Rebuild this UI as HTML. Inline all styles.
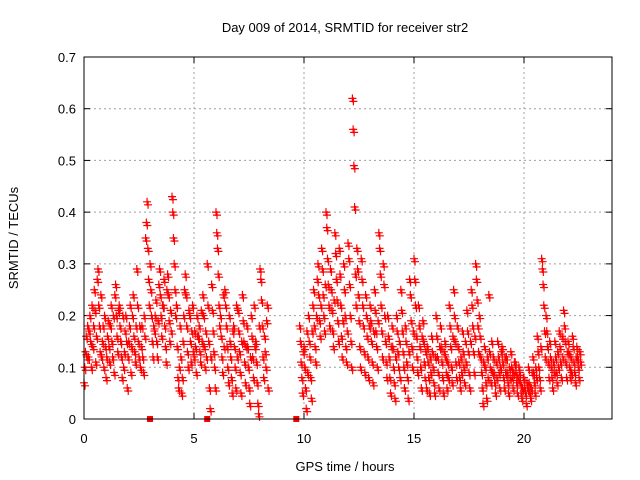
<!DOCTYPE html>
<html><head><meta charset="utf-8"><style>
body{margin:0;background:#fff}
svg{display:block;font-family:"Liberation Sans",sans-serif}
</style></head><body>
<svg id="chart" width="640" height="480">
<text x="345" y="32" font-size="13" text-anchor="middle">Day 009 of 2014, SRMTID for receiver str2</text>
<text x="18" y="238" font-size="13" text-anchor="middle" transform="rotate(-90 18 238)">SRMTID / TECUs</text>
<text x="345" y="471" font-size="13" text-anchor="middle">GPS time / hours</text>
<g id="grid"></g>
<g id="ticks"></g>
<g id="marks"></g>
<rect x="84" y="57" width="528" height="362" fill="none" stroke="#000" stroke-width="1"/>
</svg>
<script>
const xTicks=[0,5,10,15,20];
const yTicks=[0,0.1,0.2,0.3,0.4,0.5,0.6,0.7];
const yTickLabels=["0","0.1","0.2","0.3","0.4","0.5","0.6","0.7"];
const binStarts=[0,0.2,0.4,0.6,0.8,1.0,1.2,1.4,1.6,1.8,2.0,2.2,2.4,2.6,2.8,3.0,3.2,3.4,3.6,3.8,4.0,4.2,4.4,4.6,4.8,5.0,5.2,5.4,5.6,5.8,6.0,6.2,6.4,6.6,6.8,7.0,7.2,7.4,7.6,7.8,8.0,8.2,
9.8,10.0,10.2,10.4,10.6,10.8,11.0,11.2,11.4,11.6,11.8,12.0,12.2,12.4,12.6,12.8,13.0,13.2,13.4,13.6,13.8,14.0,14.2,14.4,14.6,14.8,15.0,15.2,15.4,15.6,15.8,16.0,16.2,16.4,16.6,16.8,17.0,17.2,17.4,17.6,17.8,18.0,18.2,18.4,18.6,18.8,19.0,19.2,19.4,19.6,19.8,20.0,20.2,20.4,20.6,20.8,21.0,21.2,21.4,21.6,21.8,22.0,22.2,22.4];
const binValues=[
[.07,.10,.13,.16,.12,.18],[.12,.17,.20,.15,.10,.22],[.14,.18,.25,.21,.11,.16],[.27,.29,.22,.18,.13,.24],[.12,.15,.18,.10,.20,.14],[.08,.12,.16,.19,.14,.11],[.18,.22,.15,.12,.20,.09],[.24,.26,.20,.16,.13,.21],[.22,.18,.15,.12,.08,.20],[.10,.13,.17,.20,.15,.06],
[.12,.15,.18,.22,.09,.14],[.20,.24,.16,.13,.11,.18],[.29,.22,.15,.12,.18,.10],[.14,.18,.12,.09,.20,.16],[.35,.38,.42,.33,.27,.22],[.30,.25,.20,.15,.12,.18],[.17,.20,.23,.15,.12,.19],[.26,.29,.24,.20,.16,.22],[.22,.27,.18,.14,.11,.25],[.28,.24,.19,.15,.21,.17],
[.43,.40,.35,.30,.25,.20],[.22,.14,.08,.06,.10,.18],[.12,.05,.08,.15,.20,.25],[.28,.24,.18,.13,.10,.21],[.20,.15,.11,.17,.22,.13],[.12,.17,.14,.09,.20,.16],[.16,.18,.13,.11,.21,.15],[.24,.20,.14,.10,.17,.12],[.30,.22,.15,.06,.02,.12],[.26,.21,.17,.13,.10,.06],
[.40,.36,.33,.28,.22,.18],[.20,.16,.12,.09,.24,.14],[.25,.22,.18,.14,.10,.07],[.20,.15,.12,.08,.05,.17],[.18,.14,.10,.06,.22,.12],[.21,.17,.13,.09,.05,.15],[.24,.19,.15,.11,.07,.14],[.18,.14,.10,.06,.03,.12],[.20,.16,.12,.08,.22,.14],[.15,.11,.07,.03,.01,.18],
[.29,.27,.23,.18,.12,.08],[.16,.13,.10,.19,.22,.06],
[.18,.15,.11,.08,.05,.13],[.14,.10,.06,.02,.17,.09],[.20,.15,.12,.08,.04,.17],[.22,.25,.18,.14,.11,.20],[.27,.30,.24,.19,.16,.22],[.33,.29,.24,.20,.17,.26],[.40,.37,.31,.26,.22,.18],[.29,.25,.21,.17,.14,.23],[.36,.32,.27,.23,.19,.15],[.33,.28,.22,.16,.12,.19],
[.30,.25,.20,.14,.11,.17],[.34,.31,.26,.20,.15,.10],[.62,.56,.49,.41,.28,.22],[.33,.29,.24,.19,.14,.10],[.31,.27,.22,.18,.13,.09],[.24,.20,.16,.12,.08,.18],[.22,.19,.15,.11,.07,.17],[.25,.21,.17,.14,.10,.19],[.36,.33,.28,.22,.17,.12],[.30,.26,.20,.15,.11,.08],
[.20,.16,.12,.08,.05,.14],[.18,.14,.10,.07,.04,.12],[.20,.17,.13,.10,.15,.08],[.25,.21,.17,.13,.10,.06],[.18,.15,.11,.08,.04,.13],[.27,.24,.19,.14,.10,.17],[.31,.27,.22,.16,.12,.09],[.22,.18,.14,.10,.06,.16],[.19,.15,.11,.08,.13,.06],[.14,.11,.08,.05,.12,.09],
[.16,.13,.10,.07,.05,.12],[.20,.16,.12,.09,.06,.14],[.18,.14,.11,.08,.05,.13],[.15,.12,.09,.06,.11,.08],[.22,.18,.14,.10,.07,.16],[.25,.20,.15,.11,.08,.18],[.14,.11,.08,.06,.12,.09],[.17,.13,.10,.07,.15,.11],[.21,.17,.13,.09,.06,.15],[.25,.22,.18,.13,.09,.16],
[.30,.27,.23,.18,.13,.20],[.16,.12,.09,.06,.03,.11],[.14,.10,.07,.04,.12,.08],[.24,.13,.10,.07,.15,.09],[.12,.09,.07,.05,.11,.08],[.15,.12,.09,.06,.10,.13],[.14,.11,.08,.06,.12,.09],[.12,.09,.07,.05,.10,.08],[.13,.10,.08,.06,.09,.11],[.11,.09,.07,.05,.08,.10],
[.09,.07,.05,.04,.06,.08],[.08,.06,.05,.03,.07,.06],[.10,.07,.05,.04,.06,.09],[.12,.09,.07,.05,.10,.08],[.16,.13,.10,.08,.06,.14],[.31,.29,.26,.22,.17,.12],[.20,.17,.14,.11,.08,.15],[.12,.10,.08,.06,.11,.09],[.15,.12,.09,.07,.13,.10],[.17,.14,.11,.08,.16,.12],
[.21,.18,.15,.11,.08,.13],[.15,.13,.10,.08,.12,.09],[.16,.14,.11,.09,.07,.12],[.14,.12,.10,.08,.13,.11]];
const zeroTimes=[3.0,5.6,9.65];

const NS="http://www.w3.org/2000/svg";
function xs(t){return 84+t*(528/24);}
function ys(v){return 419-v*(362/0.7);}
function mk(tag,attrs,parent){const e=document.createElementNS(NS,tag);for(const k in attrs)e.setAttribute(k,attrs[k]);parent.appendChild(e);return e;}
const grid=document.getElementById('grid'),ticks=document.getElementById('ticks'),marks=document.getElementById('marks');
yTicks.forEach((v,i)=>{
  const y=ys(v);
  if(v>0&&v<0.7){const g=mk('line',{x1:84,x2:612,y1:y,y2:y,stroke:'#a0a0a0','stroke-dasharray':'2,3'},grid);
  
  }
  mk('line',{x1:84,x2:90,y1:y,y2:y,stroke:'#000'},ticks);
  mk('line',{x1:606,x2:612,y1:y,y2:y,stroke:'#000'},ticks);
  const t=mk('text',{x:76,y:y+5,'font-size':13,'text-anchor':'end'},ticks);t.textContent=yTickLabels[i];
  
  
});
xTicks.forEach(v=>{
  const x=xs(v);
  if(v>0){const g=mk('line',{x1:x,x2:x,y1:57,y2:419,stroke:'#a0a0a0','stroke-dasharray':'2,3'},grid);
  
  }
  mk('line',{x1:x,x2:x,y1:413,y2:419,stroke:'#000'},ticks);
  mk('line',{x1:x,x2:x,y1:57,y2:63,stroke:'#000'},ticks);
  const t=mk('text',{x:x,y:443,'font-size':13,'text-anchor':'middle'},ticks);t.textContent=String(v);
  
  
});
let d='';
binStarts.forEach((t0,i)=>{
  binValues[i].forEach((v,j)=>{
    const x=xs(t0+j*0.033),y=ys(v);
    d+=`M${x-4},${y}h8M${x},${y-4}v8`;
    d+=`M${x-3},${y+3}h8M${x+1},${y-1}v8`;
  });
});
const p=mk('path',{d:d,stroke:'#ff0000','stroke-width':1.2,fill:'none'},marks);


zeroTimes.forEach(t=>{
  const r=mk('rect',{x:xs(t)-3,y:416,width:6,height:6,fill:'#ff0000'},marks);
  
  
});
</script>
</body></html>
